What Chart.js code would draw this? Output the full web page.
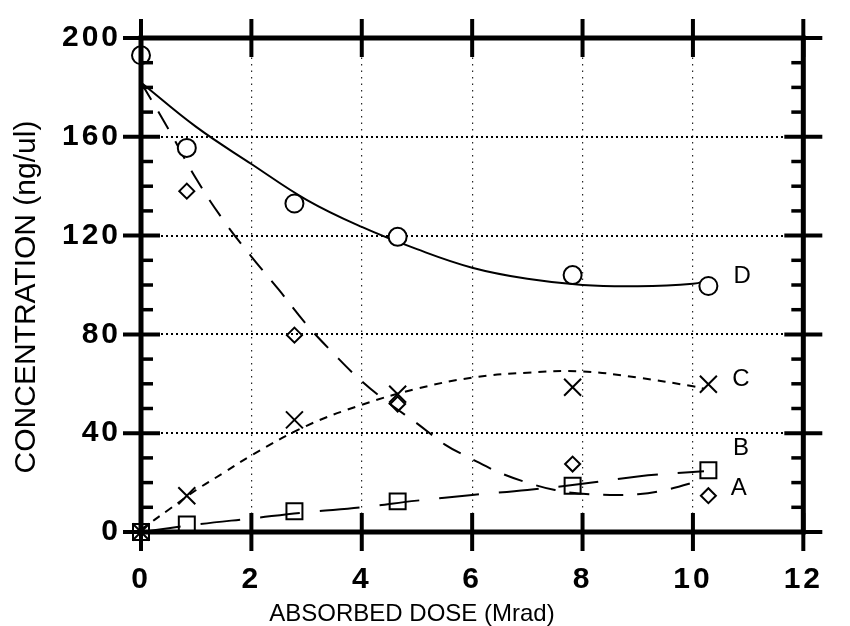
<!DOCTYPE html>
<html>
<head>
<meta charset="utf-8">
<script src="https://cdn.jsdelivr.net/npm/chart.js@4.4.1/dist/chart.umd.min.js"></script>
<style>
  html, body { margin: 0; padding: 0; background: #fff; }
</style>
</head>
<body>
<canvas id="chart" width="850" height="626"></canvas>
<script>
// measured points, dose in Mrad, concentration in ng/ul
const doses = [0, 0.83, 2.78, 4.65, 7.82, 10.28];
const seriesA = [193, 138, 79.7, 51.8, 27.5, 14.7];   // diamonds
const seriesB = [0, 3, 8.4, 12.4, 18.7, 25];           // squares
const seriesC = [0, 14.7, 45.4, 55.8, 58.6, 59.8];     // crosses
const seriesD = [193, 155.5, 133, 119.5, 104, 99.6];   // circles

// fitted curves
const fitAx = [0, 0.5, 1, 1.5, 2, 2.5, 3, 3.5, 4, 4.5, 5, 5.5, 6, 6.5, 7, 7.5, 8, 8.5, 9, 9.5, 10, 10.1];
const fitAy = [182, 163, 143, 126, 111.5, 98, 84, 72, 61, 52, 44, 35.5, 29.5, 24, 20, 17, 15.5, 15, 15.3, 17, 20, 21];
const fitBx = [0, 1, 2, 3, 4, 5, 6, 7, 8, 9, 10, 10.2];
const fitBy = [0, 3, 5.5, 8, 10, 12.7, 15, 17, 19.5, 22.5, 24.3, 24.6];
const fitCx = [0, 0.5, 1, 1.5, 2, 3, 4, 5, 6, 7, 8, 9, 10, 10.2];
const fitCy = [1, 9, 17, 24, 31, 43, 51.5, 58, 62.5, 64.5, 65, 62.5, 59, 58];
const fitDx = [0, 1, 2, 3, 4, 5, 6, 7, 8, 9, 10, 10.3];
const fitDy = [182, 164, 149, 134.5, 123.5, 114.5, 107, 102.5, 100, 99.5, 100.5, 102];

const xTicks = [0, 2, 4, 6, 8, 10, 12];
const yTicks = [0, 40, 80, 120, 160, 200];

const curveNames = ['A', 'B', 'C', 'D'];

function pts(xs, ys) {
    return xs.map((x, i) => ({ x: x, y: ys[i] }));
}

function markers(ys, style, radius, fill) {
    return {
        data: pts(doses, ys),
        showLine: false,
        pointStyle: style,
        pointRadius: radius,
        pointBorderWidth: 2,
        pointBorderColor: '#000',
        pointBackgroundColor: fill,
        clip: false,
        order: 0
    };
}

function curve(xs, ys, dash) {
    return {
        data: pts(xs, ys),
        showLine: true,
        pointRadius: 0,
        borderColor: '#000',
        borderWidth: 2,
        borderDash: dash,
        tension: 0.4,
        fill: false,
        order: 1
    };
}

// thick frame with crossing major ticks and inward minor ticks
const framePlugin = {
    id: 'frame',
    beforeDraw(chart) {
        chart.ctx.letterSpacing = '3px'; // wide tick digits like the original
    },
    beforeDatasetsDraw(chart) {
        chart.ctx.letterSpacing = '0px';
    },
    afterDatasetsDraw(chart) {
        const { ctx, chartArea: a, scales: { x, y } } = chart;
        const seg = (x1, y1, x2, y2) => {
            ctx.beginPath();
            ctx.moveTo(x1, y1);
            ctx.lineTo(x2, y2);
            ctx.stroke();
        };
        ctx.save();
        ctx.strokeStyle = '#000';
        ctx.lineWidth = 5;
        ctx.strokeRect(a.left, a.top, a.right - a.left, a.bottom - a.top);

        ctx.lineWidth = 4;
        xTicks.forEach(v => {
            const px = x.getPixelForValue(v);
            seg(px, a.top - 19, px, a.top + 19);
            seg(px, a.bottom - 19, px, a.bottom + 19);
        });
        yTicks.forEach(v => {
            const py = y.getPixelForValue(v);
            seg(a.left - 18, py, a.left + 19, py);
            seg(a.right - 19, py, a.right + 19, py);
        });
        ctx.lineWidth = 3.5;
        for (let v = 10; v < 200; v += 10) {
            if (v % 40 === 0) continue;
            const py = y.getPixelForValue(v);
            seg(a.left, py, a.left + 12, py);
            seg(a.right - 12, py, a.right, py);
        }

        // curve names
        ctx.fillStyle = '#000';
        ctx.font = '24px "Liberation Sans", Arial, sans-serif';
        ctx.textAlign = 'center';
        ctx.textBaseline = 'middle';
        const namePos = { A: [10.83, 17.5], B: [10.87, 33.9], C: [10.87, 61.8], D: [10.89, 103.6] };
        curveNames.forEach(n => {
            ctx.fillText(n, x.getPixelForValue(namePos[n][0]), y.getPixelForValue(namePos[n][1]));
        });

        // axis titles
        ctx.textBaseline = 'alphabetic';
        ctx.fillText('ABSORBED DOSE (Mrad)', 412, 621);
        ctx.save();
        ctx.translate(35, 297);
        ctx.rotate(-Math.PI / 2);
        ctx.font = '30px "Liberation Sans", Arial, sans-serif';
        ctx.fillText('CONCENTRATION (ng/ul)', 0, 0);
        ctx.restore();
        ctx.restore();
    }
};

const tickFont = { family: '"Liberation Sans", Arial, sans-serif', size: 30, weight: 'bold' };

const myChart = new Chart(document.getElementById('chart').getContext('2d'), {
    type: 'scatter',
    data: {
        datasets: [
            markers(seriesD, 'circle', 9, '#fff'),
            markers(seriesA, 'rectRot', 7.5, 'rgba(0,0,0,0)'),
            markers(seriesC, 'crossRot', 12, 'rgba(0,0,0,0)'),
            markers(seriesB, 'rect', 11.3, 'rgba(0,0,0,0)'),
            curve(fitDx, fitDy, []),
            curve(fitAx, fitAy, [20, 14]),
            curve(fitCx, fitCy, [8, 7]),
            curve(fitBx, fitBy, [40, 20])
        ]
    },
    options: {
        responsive: false,
        animation: false,
        layout: { padding: { left: 0, right: 32, top: 30, bottom: 0 } },
        plugins: {
            legend: { display: false },
            tooltip: { enabled: false }
        },
        scales: {
            x: {
                type: 'linear',
                min: 0,
                max: 12,
                afterFit: s => { s.height = 94; },
                ticks: { stepSize: 2, color: '#000', font: tickFont, padding: 30 },
                grid: { color: 'rgba(0,0,0,0.85)', lineWidth: 1.2, drawTicks: false },
                border: { display: false, dash: [1.5, 5] }
            },
            y: {
                min: 0,
                max: 200,
                afterFit: s => { s.width = 141; },
                ticks: { stepSize: 40, color: '#000', font: tickFont, padding: 20 },
                grid: { color: '#000', lineWidth: 2, drawTicks: false },
                border: { display: false, dash: [2, 3] }
            }
        }
    },
    plugins: [framePlugin]
});
</script>
</body>
</html>
